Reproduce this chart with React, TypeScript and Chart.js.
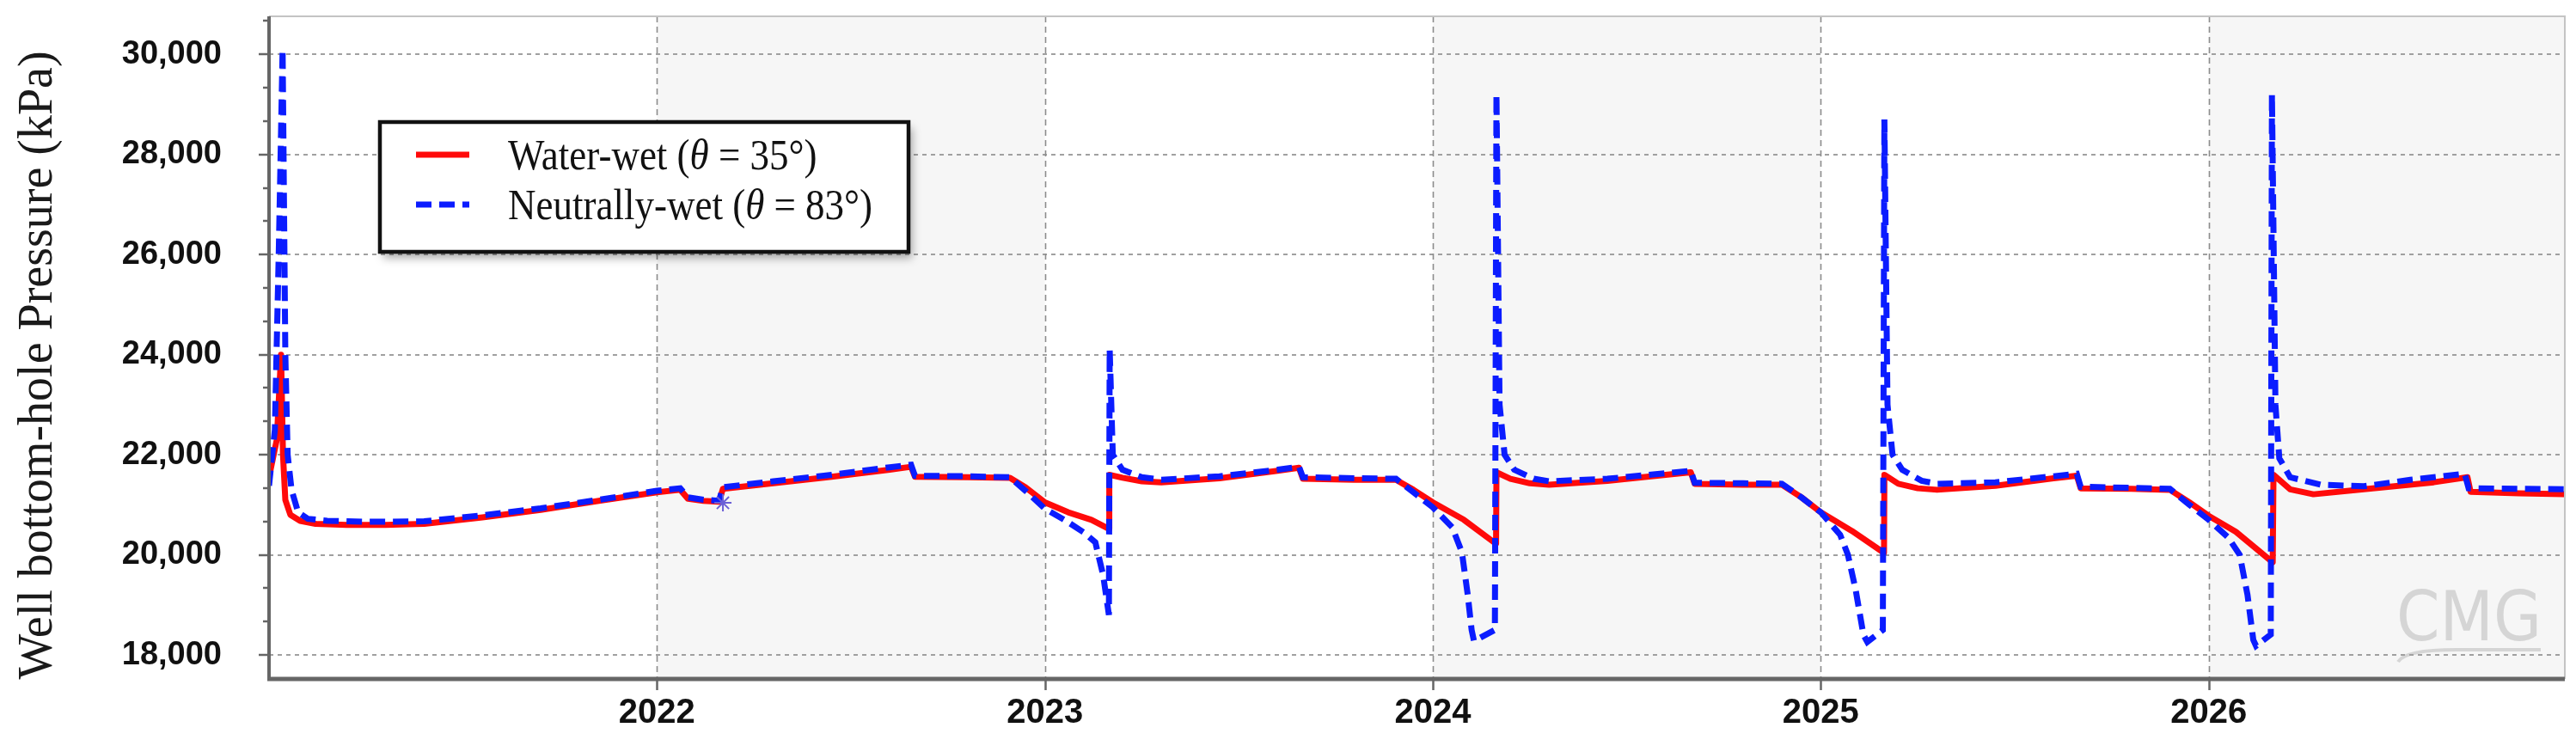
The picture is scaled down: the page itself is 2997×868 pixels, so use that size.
import { useEffect, useRef } from "react";
import { Chart, registerables } from "chart.js";

Chart.register(...registerables);

// ---------------- data (decimal years, kPa) ----------------
const waterWetYears = [
  2021.0, 2021.02, 2021.031, 2021.036, 2021.042, 2021.055, 2021.08, 2021.12, 2021.2, 2021.3,
  2021.4, 2021.55, 2021.7, 2021.85, 2022.0, 2022.06, 2022.08, 2022.12, 2022.16, 2022.17,
  2022.3, 2022.45, 2022.6, 2022.655, 2022.665, 2022.8, 2022.91, 2022.95, 2023.0, 2023.06,
  2023.12, 2023.165, 2023.166, 2023.2, 2023.25, 2023.3, 2023.45, 2023.6, 2023.655, 2023.665,
  2023.8, 2023.905, 2023.95, 2024.0, 2024.08, 2024.163, 2024.164, 2024.2, 2024.25, 2024.3,
  2024.45, 2024.6, 2024.665, 2024.675, 2024.8, 2024.9, 2024.95, 2025.0, 2025.08, 2025.163,
  2025.164, 2025.2, 2025.25, 2025.3, 2025.45, 2025.6, 2025.66, 2025.67, 2025.8, 2025.9,
  2025.95, 2026.0, 2026.07, 2026.165, 2026.167, 2026.21, 2026.27, 2026.4, 2026.58, 2026.667,
  2026.675, 2026.8, 2026.918,
];
const waterWetPressure = [
  21550, 22300, 24000, 22000, 21100, 20800, 20680, 20620, 20600, 20600,
  20620, 20750, 20900, 21080, 21250, 21300, 21120, 21080, 21060, 21320,
  21430, 21560, 21700, 21760, 21560, 21550, 21540, 21350, 21050, 20850,
  20700, 20520, 21600, 21540, 21470, 21450, 21530, 21680, 21740, 21520,
  21500, 21500, 21300, 21050, 20700, 20220, 21650, 21520, 21430, 21400,
  21480, 21600, 21650, 21420, 21400, 21400, 21150, 20850, 20480, 20040,
  21600, 21420, 21330, 21300, 21380, 21530, 21580, 21330, 21320, 21300,
  21050, 20780, 20460, 19850, 21600, 21310, 21210, 21310, 21450, 21550,
  21260, 21230, 21210,
];

const neutralWetYears = [
  2021.0, 2021.015, 2021.025, 2021.035, 2021.042, 2021.048, 2021.058, 2021.075, 2021.1, 2021.15,
  2021.25, 2021.4, 2021.55, 2021.7, 2021.85, 2022.0, 2022.06, 2022.08, 2022.12, 2022.16,
  2022.17, 2022.3, 2022.45, 2022.6, 2022.655, 2022.665, 2022.8, 2022.91, 2022.95, 2023.0,
  2023.05, 2023.1, 2023.13, 2023.15, 2023.165, 2023.167, 2023.175, 2023.2, 2023.25, 2023.3,
  2023.45, 2023.6, 2023.655, 2023.665, 2023.8, 2023.905, 2023.95, 2024.0, 2024.05, 2024.075,
  2024.09, 2024.1, 2024.106, 2024.16, 2024.164, 2024.172, 2024.185, 2024.21, 2024.26, 2024.3,
  2024.45, 2024.6, 2024.665, 2024.675, 2024.8, 2024.9, 2024.95, 2025.0, 2025.05, 2025.07,
  2025.09, 2025.11, 2025.12, 2025.16, 2025.164, 2025.172, 2025.185, 2025.21, 2025.26, 2025.3,
  2025.45, 2025.6, 2025.66, 2025.67, 2025.8, 2025.9, 2025.95, 2026.0, 2026.05, 2026.08,
  2026.1, 2026.115, 2026.122, 2026.16, 2026.163, 2026.172, 2026.182, 2026.21, 2026.29, 2026.4,
  2026.52, 2026.66, 2026.67, 2026.8, 2026.918,
];
const neutralWetPressure = [
  21380, 22500, 26000, 30100, 24000, 22000, 21300, 20850, 20720, 20680,
  20660, 20670, 20790, 20930, 21100, 21280, 21330, 21150, 21100, 21080,
  21350, 21470, 21600, 21750, 21800, 21580, 21570, 21550, 21280, 20920,
  20700, 20450, 20250, 19600, 18800, 24100, 22000, 21700, 21550, 21500,
  21570, 21700, 21760, 21550, 21530, 21520, 21250, 20950, 20550, 20050,
  19200, 18500, 18280, 18500, 29200, 23000, 22000, 21700, 21520, 21470,
  21520, 21630, 21680, 21440, 21430, 21420, 21150, 20850, 20400, 20000,
  19300, 18400, 18260, 18500, 28700, 23000, 22000, 21700, 21480, 21420,
  21450, 21570, 21620, 21360, 21340, 21320, 21000, 20700, 20350, 20000,
  19200, 18300, 18180, 18410, 29200, 23000, 21930, 21550, 21400, 21370,
  21500, 21620, 21330, 21320, 21310,
];

const markerYears = [2022.17];
const markerPressure = [21040];

const seriesLabels = ["Water-wet (θ = 35°)", "Neutrally-wet (θ = 83°)"];
const yearTicks = [2022, 2023, 2024, 2025, 2026];
const pressureTicks = [18000, 20000, 22000, 24000, 26000, 28000, 30000];
const shadedYears = [
  [2022, 2023],
  [2024, 2025],
  [2026, 2027],
];
const axisTitle = "Well bottom-hole Pressure (kPa)";
const watermark = "CMG";

// ---------------- styling constants ----------------
const W = 2981;
const H = 852;
const RED = "#ff0a0a";
const BLUE = "#0b1cff";
const BLUE_DASH = [18, 9];

const zip = (xs: number[], ys: number[]) => xs.map((x, i) => ({ x, y: ys[i] }));

const decorPlugin = {
  id: "decor",
  beforeDraw(chart: any) {
    const { ctx, chartArea: a, scales } = chart;
    const x = scales.x;
    const y = scales.y;
    ctx.save();
    // alternating year bands
    ctx.fillStyle = "#f6f6f6";
    shadedYears.forEach(([s, e]) => {
      const x0 = Math.max(a.left, x.getPixelForValue(s));
      const x1 = Math.min(a.right, x.getPixelForValue(e));
      if (x1 > x0) ctx.fillRect(x0, a.top, x1 - x0, a.bottom - a.top);
    });
    // watermark
    ctx.save();
    ctx.fillStyle = "#d5d5d5";
    ctx.font = "80px 'Liberation Sans Narrow', 'DejaVu Sans Condensed', sans-serif";
    ctx.textBaseline = "alphabetic";
    const tw = ctx.measureText(watermark).width;
    ctx.translate(2780, 737);
    ctx.scale(169 / tw, 1);
    ctx.fillText(watermark, 0, 0);
    ctx.restore();
    ctx.strokeStyle = "#d5d5d5";
    ctx.lineWidth = 4;
    ctx.beginPath();
    ctx.moveTo(2782, 762);
    ctx.quadraticCurveTo(2790, 748, 2850, 748);
    ctx.lineTo(2948, 748);
    ctx.stroke();
    // horizontal grid
    ctx.strokeStyle = "#a0a0a0";
    ctx.lineWidth = 2;
    ctx.setLineDash([5, 5]);
    pressureTicks.forEach((v) => {
      const py = Math.round(y.getPixelForValue(v));
      ctx.beginPath();
      ctx.moveTo(a.left, py);
      ctx.lineTo(a.right, py);
      ctx.stroke();
    });
    // vertical grid
    ctx.strokeStyle = "#8c8c8c";
    ctx.lineWidth = 1.6;
    ctx.setLineDash([7, 5]);
    yearTicks.forEach((v) => {
      const px = Math.round(x.getPixelForValue(v)) + 0.5;
      ctx.beginPath();
      ctx.moveTo(px, a.top);
      ctx.lineTo(px, a.bottom);
      ctx.stroke();
    });
    ctx.restore();
  },
  afterDatasetsDraw(chart: any) {
    const { ctx, chartArea: a, scales } = chart;
    const x = scales.x;
    const y = scales.y;
    ctx.save();
    // frame: light top/right, dark left/bottom
    ctx.strokeStyle = "#c4c4c4";
    ctx.lineWidth = 2;
    ctx.beginPath();
    ctx.moveTo(a.left, a.top);
    ctx.lineTo(a.right, a.top);
    ctx.lineTo(a.right, a.bottom);
    ctx.stroke();
    ctx.strokeStyle = "#666";
    ctx.lineWidth = 4;
    ctx.beginPath();
    ctx.moveTo(a.left, a.top);
    ctx.lineTo(a.left, a.bottom + 2);
    ctx.stroke();
    ctx.lineWidth = 5;
    ctx.beginPath();
    ctx.moveTo(a.left - 2, a.bottom);
    ctx.lineTo(a.right, a.bottom);
    ctx.stroke();
    // y tick marks (major + two minor between)
    ctx.lineWidth = 2.5;
    const majorStep = pressureTicks[1] - pressureTicks[0];
    const step = majorStep / 3;
    for (let k = -3; ; k++) {
      const v = pressureTicks[0] + k * step;
      if (v > y.max) break;
      if (v < y.min) continue;
      const py = Math.round(y.getPixelForValue(v));
      const major = ((k % 3) + 3) % 3 === 0;
      ctx.beginPath();
      ctx.moveTo(a.left - (major ? 12 : 7), py);
      ctx.lineTo(a.left, py);
      ctx.stroke();
    }
    // x tick marks
    yearTicks.forEach((v) => {
      const px = Math.round(x.getPixelForValue(v)) + 0.5;
      ctx.beginPath();
      ctx.moveTo(px, a.bottom);
      ctx.lineTo(px, a.bottom + 13);
      ctx.stroke();
    });

    // y axis title
    ctx.save();
    ctx.translate(37, 417);
    ctx.rotate(-Math.PI / 2);
    ctx.fillStyle = "#1a1a1a";
    ctx.font = "56px 'Liberation Serif', 'Times New Roman', serif";
    ctx.textAlign = "center";
    ctx.textBaseline = "middle";
    ctx.fillText(axisTitle, 0, 0);
    ctx.restore();

    // legend box
    const lx = 434;
    const ly = 134;
    const lw = 615;
    const lh = 151;
    ctx.save();
    ctx.shadowColor = "rgba(0,0,0,0.35)";
    ctx.shadowBlur = 10;
    ctx.shadowOffsetX = 4;
    ctx.shadowOffsetY = 7;
    ctx.fillStyle = "#ffffff";
    ctx.fillRect(lx, ly, lw, lh);
    ctx.restore();
    ctx.strokeStyle = "#111";
    ctx.lineWidth = 4.5;
    ctx.setLineDash([]);
    ctx.strokeRect(lx, ly, lw, lh);

    const ds = chart.data.datasets;
    [0, 1].forEach((i) => {
      const d = ds[i];
      const ry = 172 + i * 58;
      ctx.save();
      ctx.strokeStyle = d.borderColor;
      ctx.lineWidth = d.borderWidth;
      ctx.setLineDash(d.borderDash || []);
      ctx.beginPath();
      ctx.moveTo(476, ry);
      ctx.lineTo(538, ry);
      ctx.stroke();
      ctx.restore();
      const label: string = d.label;
      const parts = label.split("θ");
      const by = 189 + i * 58;
      ctx.save();
      ctx.translate(583, by);
      ctx.scale(0.9, 1);
      let tx = 0;
      ctx.fillStyle = "#111";
      ctx.textBaseline = "alphabetic";
      ctx.textAlign = "left";
      ctx.font = "50px 'Liberation Serif', 'Times New Roman', serif";
      ctx.fillText(parts[0], tx, 0);
      tx += ctx.measureText(parts[0]).width;
      ctx.font = "italic 50px 'Liberation Serif', 'Times New Roman', serif";
      ctx.fillText("θ", tx, 0);
      tx += ctx.measureText("θ").width;
      ctx.font = "50px 'Liberation Serif', 'Times New Roman', serif";
      ctx.fillText(parts[1] || "", tx, 0);
      ctx.restore();
    });
    ctx.restore();
  },
};

export default function App() {
  const ref = useRef<HTMLCanvasElement | null>(null);

  useEffect(() => {
    if (!ref.current) return;
    const chart = new Chart(ref.current, {
      type: "line",
      data: {
        datasets: [
          {
            label: seriesLabels[0],
            data: zip(waterWetYears, waterWetPressure),
            borderColor: RED,
            backgroundColor: RED,
            borderWidth: 7,
            pointRadius: 0,
            tension: 0,
            order: 2,
            borderJoinStyle: "round",
          } as any,
          {
            label: seriesLabels[1],
            data: zip(neutralWetYears, neutralWetPressure),
            borderColor: BLUE,
            backgroundColor: BLUE,
            borderWidth: 7,
            borderDash: BLUE_DASH,
            pointRadius: 0,
            tension: 0,
            order: 1,
          } as any,
          {
            type: "scatter",
            label: "marker",
            data: zip(markerYears, markerPressure),
            pointStyle: "star",
            pointRadius: 10,
            borderColor: "#6b5fd6",
            backgroundColor: "rgba(0,0,0,0)",
            borderWidth: 2,
            showLine: false,
            order: 0,
          } as any,
        ],
      },
      options: {
        animation: false,
        responsive: false,
        devicePixelRatio: 1,
        events: [],
        layout: { autoPadding: false, padding: { left: 0, top: 11, right: 5, bottom: 0 } },
        plugins: {
          legend: { display: false },
          tooltip: { enabled: false },
          title: { display: false },
        },
        scales: {
          x: {
            type: "linear",
            min: 2021.0,
            max: 2026.918,
            grid: { display: false, drawTicks: false },
            border: { display: false },
            afterBuildTicks: (scale: any) => {
              scale.ticks = yearTicks.map((v) => ({ value: v }));
            },
            afterFit: (scale: any) => {
              scale.height = 70;
              scale.paddingLeft = 0;
              scale.paddingRight = 0;
            },
            ticks: {
              autoSkip: false,
              maxRotation: 0,
              padding: 16,
              color: "#111",
              font: { family: "'Liberation Sans', Arial, sans-serif", size: 40, weight: "bold" },
              callback: (v: any) => String(v),
            },
          },
          y: {
            type: "linear",
            min: 17520,
            max: 30760,
            grid: { display: false, drawTicks: true, tickLength: 55 },
            border: { display: false },
            afterBuildTicks: (scale: any) => {
              scale.ticks = pressureTicks.map((v) => ({ value: v }));
            },
            afterFit: (scale: any) => {
              scale.width = 305;
              scale.paddingTop = 0;
              scale.paddingBottom = 0;
            },
            ticks: {
              autoSkip: false,
              padding: 0,
              color: "#111",
              font: { family: "'Liberation Sans', Arial, sans-serif", size: 38, weight: "bold" },
              callback: (v: any) => Number(v).toLocaleString("en-US"),
            },
          },
        },
      },
      plugins: [decorPlugin],
    } as any);
    return () => chart.destroy();
  }, []);

  return <canvas ref={ref} width={W} height={H} style={{ display: "block", width: W, height: H }} />;
}
